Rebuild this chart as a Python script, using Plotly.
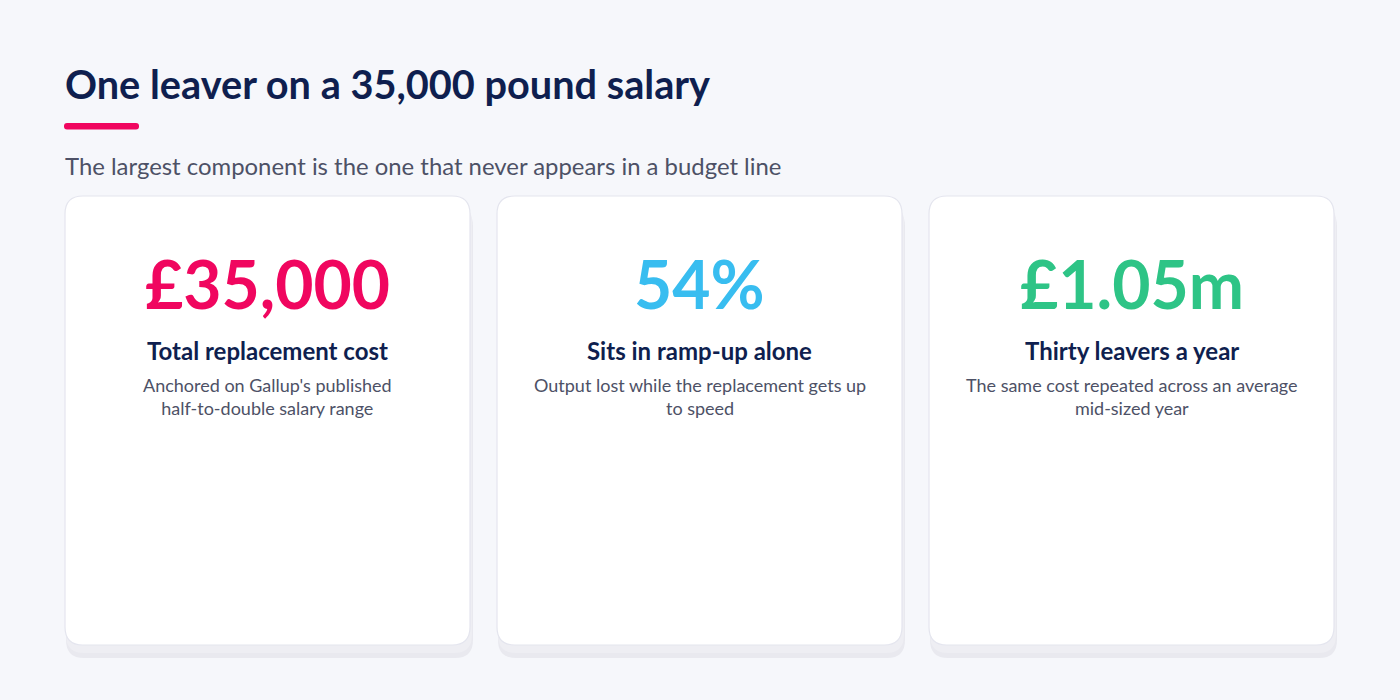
import plotly.graph_objects as go

# ---- data ----
title = "One leaver on a 35,000 pound salary"
subtitle = "The largest component is the one that never appears in a budget line"
stat_values = ["£35,000", "54%", "£1.05m"]
stat_labels = ["Total replacement cost", "Sits in ramp-up alone", "Thirty leavers a year"]
stat_notes = [
    "Anchored on Gallup's published<br>half-to-double salary range",
    "Output lost while the replacement gets up<br>to speed",
    "The same cost repeated across an average<br>mid-sized year",
]
stat_colors = ["#f0065f", "#38bdf0", "#2ec486"]

W, H = 1400, 700
BG = "#f6f7fb"
NAVY = "#0f1f4f"
GREY = "#4d5166"
FONT = "Lato, 'Open Sans', sans-serif"


def rrect(x0, y0, x1, y1, r):
    return (f"M{x0+r},{y0} L{x1-r},{y0} Q{x1},{y0} {x1},{y0+r} "
            f"L{x1},{y1-r} Q{x1},{y1} {x1-r},{y1} L{x0+r},{y1} "
            f"Q{x0},{y1} {x0},{y1-r} L{x0},{y0+r} Q{x0},{y0} {x0+r},{y0} Z")


fig = go.Figure()
fig.add_trace(go.Scatter(x=[0, W], y=[0, H], mode="markers",
                         marker=dict(opacity=0), hoverinfo="skip", showlegend=False))

shapes = []
annotations = []

# title / accent / subtitle
annotations.append(dict(x=63, y=83, text=f"<b>{title}</b>", xanchor="left", yanchor="middle",
                        showarrow=False, font=dict(family=FONT, size=39.7, color=NAVY)))
shapes.append(dict(type="path", path=rrect(64, 123, 139, 129.5, 3), fillcolor="#f0065f",
                   line=dict(width=0), layer="above"))
annotations.append(dict(x=63, y=165, text=subtitle, xanchor="left", yanchor="middle",
                        showarrow=False, font=dict(family=FONT, size=23.9, color=GREY)))

card_w, gap = 405, 27
x_start, top, bottom = 65, 196, 645
for i in range(len(stat_values)):
    x0 = x_start + i * (card_w + gap)
    x1 = x0 + card_w
    cx = (x0 + x1) / 2
    # shadow
    shapes.append(dict(type="path", path=rrect(x0 + 1, top + 12, x1 + 3, bottom + 13, 18),
                       fillcolor="#e9e9ef", line=dict(width=0), layer="below"))
    shapes.append(dict(type="path", path=rrect(x0 + 1, top + 8, x1 + 2, bottom + 8, 18),
                       fillcolor="#eeeef3", line=dict(width=0), layer="below"))
    # card
    shapes.append(dict(type="path", path=rrect(x0, top, x1, bottom, 18),
                       fillcolor="#ffffff", line=dict(color="#e4e5ee", width=1.2), layer="below"))
    annotations.append(dict(x=cx, y=283, text=f"<b>{stat_values[i]}</b>", xanchor="center",
                            yanchor="middle", showarrow=False,
                            font=dict(family=FONT, size=66, color=stat_colors[i])))
    annotations.append(dict(x=cx, y=350, text=f"<b>{stat_labels[i]}</b>", xanchor="center",
                            yanchor="middle", showarrow=False,
                            font=dict(family=FONT, size=24, color=NAVY)))
    annotations.append(dict(x=cx, y=396, text=stat_notes[i], xanchor="center", align="center",
                            yanchor="middle", showarrow=False,
                            font=dict(family=FONT, size=18, color=GREY)))

fig.update_layout(
    width=W, height=H, margin=dict(l=0, r=0, t=0, b=0),
    paper_bgcolor=BG, plot_bgcolor=BG,
    xaxis=dict(range=[0, W], visible=False, fixedrange=True),
    yaxis=dict(range=[H, 0], visible=False, fixedrange=True),
    shapes=shapes, annotations=annotations, showlegend=False,
)
fig.write_html(
    "out.html",
    config={"displayModeBar": False},
    post_script="document.body.style.margin='0';document.body.style.overflow='hidden';"
                "document.body.style.background='#f6f7fb';",
)
